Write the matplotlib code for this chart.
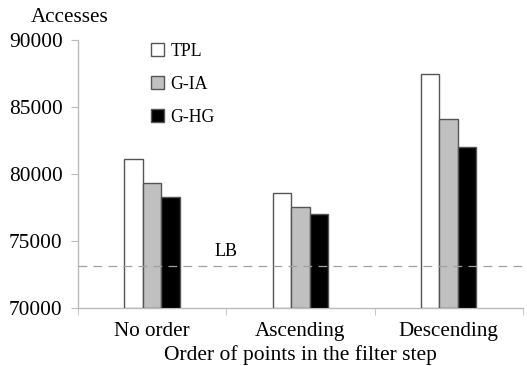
import numpy as np
import matplotlib
matplotlib.use("Agg")
import matplotlib.pyplot as plt
from matplotlib.patches import Patch

plt.rcParams['font.family'] = ['Liberation Serif', 'DejaVu Serif']

categories = ["No order", "Ascending", "Descending"]
series_names = ["TPL", "G-IA", "G-HG"]
tpl = [81100, 78550, 87400]
g_ia = [79300, 77550, 84100]
g_hg = [78250, 77000, 82000]
lower_bound = 73150
y_ticks = [70000, 75000, 80000, 85000, 90000]

fills = ["white", "#c0c0c0", "black"]

fig = plt.figure(figsize=(5.27, 3.66), dpi=100)
ax = fig.add_axes([0.148, 0.158, 0.844, 0.734])

x = np.arange(len(categories))
width = 0.125
for i, (vals, col, name) in enumerate(zip([tpl, g_ia, g_hg], fills, series_names)):
    ax.bar(x + (i - 1) * width, np.array(vals) - 70000, width=width, bottom=70000,
           color=col, edgecolor="#555555", linewidth=1.0, label=name, zorder=3)

ax.axhline(lower_bound, color="#a0a0a0", linestyle=(0, (7, 5)), linewidth=0.9, zorder=4)
ax.text(0.5, lower_bound + 400, "LB", ha="center", va="bottom", fontsize=13)

ax.set_xlim(-0.5, 2.5)
ax.set_ylim(70000, 90000)
ax.set_yticks(y_ticks)
ax.set_yticklabels([str(t) for t in y_ticks], fontsize=15.4)

ax.set_xticks(x)
ax.set_xticklabels(categories, fontsize=15.2)
ax.set_xticks([-0.5, 0.5, 1.5, 2.5], minor=True)
ax.tick_params(axis="x", which="major", length=0, pad=10)
ax.tick_params(axis="x", which="minor", length=5, color="#bbbbbb", direction="out")
ax.tick_params(axis="y", length=5, color="#bbbbbb", pad=6)
ax.set_xlabel("Order of points in the filter step", fontsize=15.5, labelpad=3)

for s in ["top", "right"]:
    ax.spines[s].set_visible(False)
for s in ["left", "bottom"]:
    ax.spines[s].set_color("#bbbbbb")
    ax.spines[s].set_linewidth(1.0)

fig.text(0.059, 0.953, "Accesses", fontsize=15.2, ha="left", va="center")

handles = [Patch(facecolor=c, edgecolor="#555555", linewidth=1.0) for c in fills]
leg = ax.legend(handles, series_names, loc="upper left", bbox_to_anchor=(0.128, 1.047),
                frameon=False, fontsize=12.8, handlelength=0.75, handleheight=0.75,
                handletextpad=0.35, labelspacing=0.9)

fig.savefig("out.png", dpi=100)
